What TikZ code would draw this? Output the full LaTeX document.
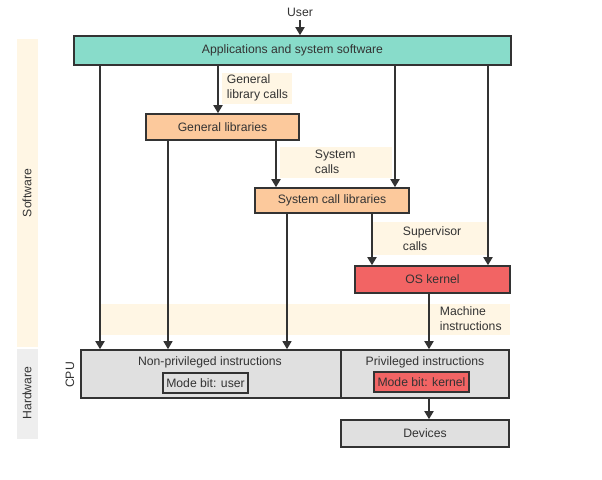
\documentclass[tikz,border=0pt]{standalone}
\usepackage{fontspec}
\setmainfont{Liberation Sans}
\usetikzlibrary{arrows.meta}

\definecolor{ink}{HTML}{333333}
\definecolor{appfill}{HTML}{88DCCA}
\definecolor{libfill}{HTML}{FCC99C}
\definecolor{kernfill}{HTML}{F26464}
\definecolor{hwfill}{HTML}{E0E0E0}
\definecolor{cream}{HTML}{FFF6E4}
\definecolor{hwband}{HTML}{EEEEEE}

\begin{document}
\begin{tikzpicture}[x=1pt, y=-1pt, line width=1.8pt,
    every node/.style={text=ink, font=\fontsize{12.2}{15}\selectfont},
    box/.style={draw=ink, line width=1.6pt, inner sep=0pt},
    arr/.style={draw=ink, -{Triangle[length=8pt, width=9pt]}},
    thin arr/.style={arr, line width=1.2pt},
    lbl/.style={align=left, anchor=west, inner sep=0pt}]
    \useasboundingbox (0,0) rectangle (602,479);

    % draw side bands
    \fill[cream]  (17, 39) rectangle (38, 347);
    \fill[hwband] (17,349) rectangle (38, 439);
    \node[rotate=90] (sw) at (27,193) {Software};
    \node[rotate=90] (hw) at (27,393) {Hardware};

    % draw label backgrounds
    \fill[cream] (222, 73) rectangle (292, 104);
    \fill[cream] (280,147) rectangle (392, 178);
    \fill[cream] (372,222) rectangle (488, 255);
    \fill[cream] (100,304) rectangle (510, 335);

    % draw boxes
    \node (user) at (300,12) {User};
    \node[box, fill=appfill,  minimum width=437pt, minimum height=29pt] (apps)    at (292.5, 50.5) {Applications and system software};
    \node[box, fill=libfill,  minimum width=153pt, minimum height=26pt] (genlib)  at (222.5,127)   {General libraries};
    \node[box, fill=libfill,  minimum width=154pt, minimum height=25pt] (syslib)  at (332,  200.5) {System call libraries};
    \node[box, fill=kernfill, minimum width=155pt, minimum height=27pt] (kernel)  at (432.5,279.5) {OS kernel};
    \node[box, fill=hwfill,   minimum width=428pt, minimum height=48pt] (cpu)     at (295,  374)   {};
    \node[box, fill=hwfill,   minimum width=168pt, minimum height=27pt] (devices) at (425,  433.5) {Devices};
    \draw[ink, line width=1.6pt] (cpu.north -| 341,0) -- (cpu.south -| 341,0);

    % draw cpu contents
    \node (nonpriv) at (210,362) {Non-privileged instructions};
    \node (priv)    at (425,362) {Privileged instructions};
    \node[box, minimum width=85pt, minimum height=20pt] (userbit) at (205.5,383) {Mode bit: user};
    \node[box, fill=kernfill, minimum width=95pt, minimum height=20pt] (kernbit) at (421.5,382) {Mode bit: kernel};
    \node[rotate=90] (cpulbl) at (70,375) {CPU};

    % draw labels
    \node[lbl] (genlbl)  at (226, 88) {General\\library calls};
    \node[lbl] (syslbl)  at (314,162) {System\\calls};
    \node[lbl] (suplbl)  at (402,239) {Supervisor\\calls};
    \node[lbl] (machlbl) at (439,319) {Machine\\instructions};

    % draw arrows
    \draw[arr] (user) -- (apps.north -| user);
    \draw[arr] (apps.south -| 100,0) -- (cpu.north -| 100,0);
    \draw[arr] (apps.south -| 218,0) -- (genlib.north -| 218,0);
    \draw[arr] (apps.south -| 395,0) -- (syslib.north -| 395,0);
    \draw[arr] (apps.south -| 488,0) -- (kernel.north -| 488,0);
    \draw[thin arr] (genlib.south -| 168,0) -- (cpu.north -| 168,0);
    \draw[arr] (genlib.south -| 276,0) -- (syslib.north -| 276,0);
    \draw[thin arr] (syslib.south -| 287,0) -- (cpu.north -| 287,0);
    \draw[arr] (syslib.south -| 372,0) -- (kernel.north -| 372,0);
    \draw[arr] (kernel.south -| 429,0) -- (cpu.north -| 429,0);
    \draw[arr] (cpu.south -| 429,0) -- (devices.north -| 429,0);
\end{tikzpicture}
\end{document}
